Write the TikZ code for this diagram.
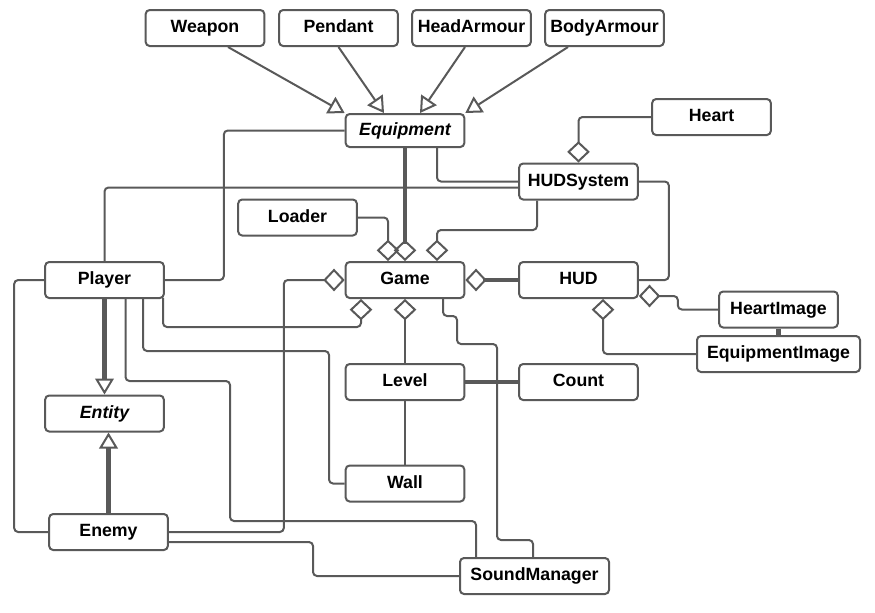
\documentclass[tikz,border=0pt]{standalone}
\usepackage{fontspec}
\setmainfont{Liberation Sans}
\usetikzlibrary{arrows.meta,calc}
\definecolor{linegray}{HTML}{595959}

\begin{document}
\begin{tikzpicture}[x=0.75pt, y=-0.75pt,
  box/.style={draw=linegray, line width=1.5pt, rounded corners=3pt, fill=white,
    minimum width=89pt, minimum height=27pt, inner sep=0pt,
    text height=9.6pt, text depth=2.6pt,
    font=\fontsize{13.3}{16}\selectfont\bfseries},
  link/.style={draw=linegray, line width=1.5pt, rounded corners=3pt},
  bold link/.style={link, line width=3.5pt},
  inherit/.style={link, -{Triangle[open, length=12pt, width=14pt, line width=1.5pt]}},
  bold inherit/.style={bold link, -{Triangle[open, length=12pt, width=14pt, line width=1.5pt]}},
  aggr/.style={link, {Diamond[open, length=16pt, width=17pt, line width=1.5pt]}-},
  bold aggr/.style={bold link, {Diamond[open, length=16pt, width=17pt, line width=1.5pt]}-}]
  \useasboundingbox (0,0) rectangle (875,612);

  % Classes
  \foreach \name/\x/\y/\txt in {weapon/205/28/Weapon, pendant/338.5/28/Pendant,
      headarmour/471.5/28/HeadArmour, bodyarmour/604.5/28/BodyArmour,
      heart/711.5/117/Heart, hudsystem/578.5/181.5/HUDSystem, loader/297.5/217.5/Loader,
      player/104.5/280/Player, game/405/280/Game, hud/578.5/280/HUD,
      heartimage/778.5/309.5/HeartImage, level/405/382/Level, count/578.5/382/Count,
      wall/405/483.5/Wall, enemy/108.5/532/Enemy} {
    \node[box] (\name) at (\x,\y) {\txt};
  }
  \node[box, minimum height=24.75pt] (equipment) at (405,130.5) {\itshape Equipment};
  \node[box] (entity) at (104.5,413.5) {\itshape Entity};
  \node[box, minimum width=122.25pt] (equipmentimage) at (778.5,354) {EquipmentImage};
  \node[box, minimum width=111.75pt] (soundmanager) at (534.5,576) {SoundManager};

  % Inheritance
  \draw[inherit] ($(weapon.south)+(23,0)$) -- (equipment.north west);
  \draw[inherit] (pendant.south) -- ($(equipment.north)+(-21,0)$);
  \draw[inherit] ($(headarmour.south)+(-6.5,0)$) -- ($(equipment.north)+(15,0)$);
  \draw[inherit] ($(bodyarmour.south)+(-36.5,0)$) -- (equipment.north east);
  \draw[bold inherit] (player.south) -- (entity.north);
  \draw[bold inherit] (enemy.north) -- (enemy |- entity.south);

  % Aggregation
  \draw[aggr] (hudsystem.north) |- (heart.west);
  \draw[aggr] ($(game.north)+(-17,0)$) |- (loader.east);
  \draw[bold aggr] (game.north) -- (equipment.south);
  \draw[aggr] ($(game.north)+(32,0)$) -- ++(0,-31) -| ($(hudsystem.south)+(-41.5,0)$);
  \draw[bold aggr] (game.east) -- (hud.west);
  \draw[aggr] ($(hud.east)+(0,16)$) -- ++(39,0) |- (heartimage.west);
  \draw[aggr] ($(hud.south)+(24.5,0)$) |- (equipmentimage.west);
  \draw[aggr] (game.west) -| ($(enemy.east)+(115,0)$) -- (enemy.east);
  \draw[aggr] ($(game.south)+(-44,0)$) |- (163,327) -- (163,298);
  \draw[aggr] (game.south) -- (level.north);

  % Associations
  \draw[link] ($(equipment.south)+(32,0)$) |- (hudsystem.west);
  \draw[link] (player.north) |- ($(hudsystem.west)+(0,6)$);
  \draw[link] (equipment.west) -| ($(player.east)+(59,0)$) -- (player.east);
  \draw[link] (hudsystem.east) -| ($(hud.east)+(30,0)$) -- (hud.east);
  \draw[bold link] (heartimage.south) -- (equipmentimage.north);
  \draw[link] (level.south) -- (wall.north);
  \draw[bold link] (level.east) -- (count.west);
  \draw[link] ($(game.south)+(38,0)$) -- ++(0,17) -| ++(14,28) -| ++(40,196)
    -| ($(soundmanager.north)+(-1.5,0)$);
  \draw[link] ($(player.south)+(38.5,0)$) |- (329,351) |- (wall.west);
  \draw[link] ($(player.south)+(21,0)$) |- (230,381) |- (476,521)
    -- ($(soundmanager.north)+(-58.5,0)$);
  \draw[link] (player.west) -- ++(-30,0) |- (enemy.west);
  \draw[link] ($(enemy.east)+(0,10)$) -- (313,542) |- (soundmanager.west);
\end{tikzpicture}
\end{document}
